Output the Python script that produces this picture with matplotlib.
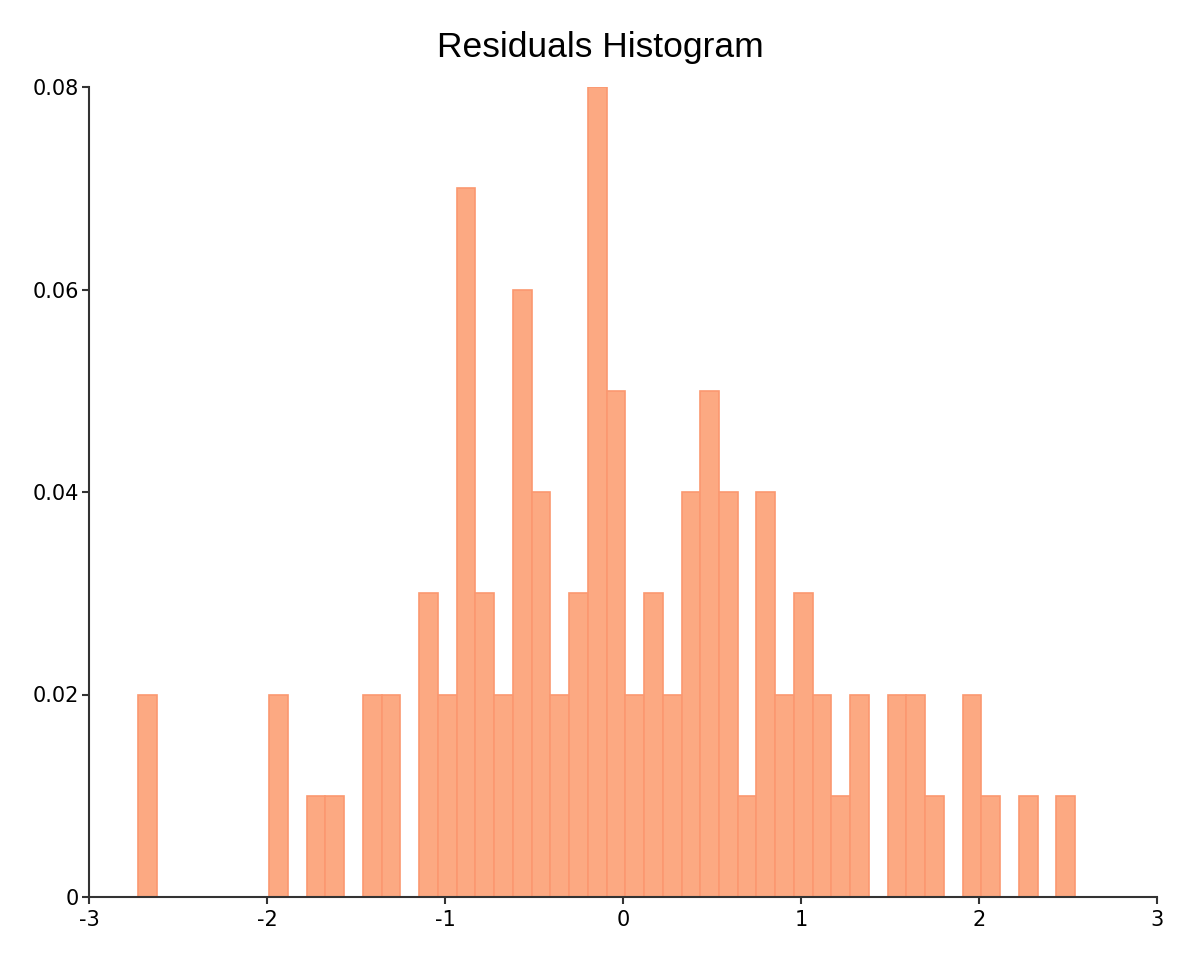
import matplotlib
matplotlib.use("Agg")
import matplotlib.pyplot as plt
import numpy as np

# Data: relative frequency per bin (50 bins)
bin_start = -2.725
bin_width = 0.1053
frequencies = [
    0.02, 0.00, 0.00, 0.00, 0.00, 0.00, 0.00, 0.02, 0.00, 0.01,
    0.01, 0.00, 0.02, 0.02, 0.00, 0.03, 0.02, 0.07, 0.03, 0.02,
    0.06, 0.04, 0.02, 0.03, 0.08, 0.05, 0.02, 0.03, 0.02, 0.04,
    0.05, 0.04, 0.01, 0.04, 0.02, 0.03, 0.02, 0.01, 0.02, 0.00,
    0.02, 0.02, 0.01, 0.00, 0.02, 0.01, 0.00, 0.01, 0.00, 0.01,
]
x_ticks = [-3, -2, -1, 0, 1, 2, 3]
x_tick_labels = ["-3", "-2", "-1", "0", "1", "2", "3"]
y_ticks = [0, 0.02, 0.04, 0.06, 0.08]
y_tick_labels = ["0", "0.02", "0.04", "0.06", "0.08"]
title = "Residuals Histogram"

edges = bin_start + bin_width * np.arange(len(frequencies))

fig = plt.figure(figsize=(12, 9.6), dpi=100)
ax = fig.add_axes([89 / 1200, 63 / 960, 1068 / 1200, 810 / 960])

ax.bar(edges, frequencies, width=bin_width, align="edge",
       color="#fca982", edgecolor="#fb9870", linewidth=1.2, zorder=2)

ax.set_xlim(-3, 3)
ax.set_ylim(0, 0.08)
ax.set_xticks(x_ticks)
ax.set_xticklabels(x_tick_labels)
ax.set_yticks(y_ticks)
ax.set_yticklabels(y_tick_labels)

for s in ["top", "right"]:
    ax.spines[s].set_visible(False)
for s in ["left", "bottom"]:
    ax.spines[s].set_color("#333333")
    ax.spines[s].set_linewidth(1.5)
    ax.spines[s].set_zorder(3)

ax.tick_params(axis="both", direction="out", length=5, width=1.5,
               color="#333333", labelsize=15, labelcolor="black")
ax.tick_params(axis="x", pad=4)
ax.tick_params(axis="y", pad=2)
for lab in ax.get_xticklabels() + ax.get_yticklabels():
    lab.set_family("DejaVu Sans")

fig.text(0.5, 1 - 48 / 960, title, ha="center", va="center",
         fontsize=25.5, family="Liberation Sans", color="black")

fig.savefig("out.png", dpi=100)
